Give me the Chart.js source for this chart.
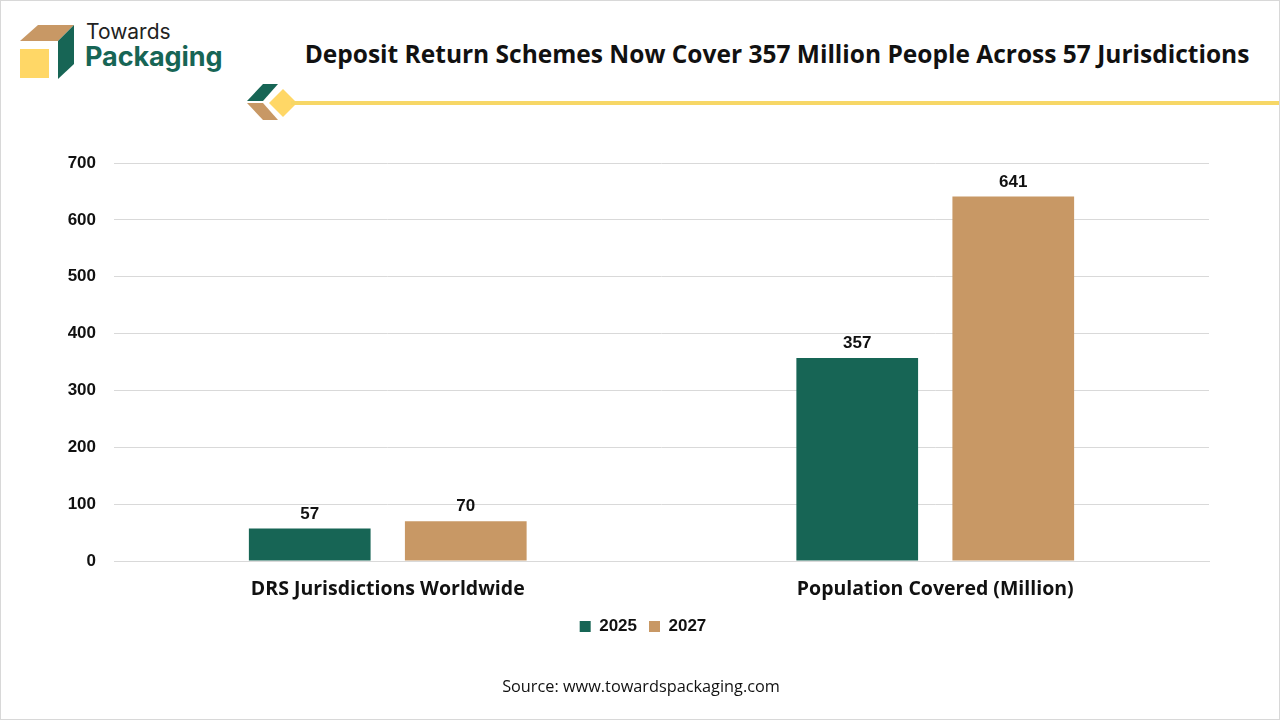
<!DOCTYPE html>
<html><head><meta charset="utf-8">
<script src="https://cdn.jsdelivr.net/npm/chart.js@4.4.1/dist/chart.umd.min.js"></script>
<style>
html,body{margin:0;padding:0;background:#fff;}
#wrap{position:relative;width:1280px;height:720px;overflow:hidden;box-sizing:border-box;border:1px solid #d8d8d8;}
#c{position:absolute;left:0;top:0;}
.t{position:absolute;white-space:nowrap;}
</style></head><body>
<div id="wrap">
<svg class="t" style="left:0;top:0" width="1280" height="130">
  <polygon points="19,40 37,24 73,24 57,40" fill="#C89865"/>
  <polygon points="57,40 73,24 73,63 57,78" fill="#176555"/>
  <rect x="19" y="48" width="29" height="29" fill="#FFD766"/>
  <polygon points="262,83 277,83 262,100 246,100" fill="#176555"/>
  <polygon points="246,102 262,102 277,119 262,119" fill="#C89865"/>
  <polygon points="282,88 296,102 282,116 268,102" fill="#FFD766"/>
  <rect x="290" y="100" width="990" height="4" fill="#F7D766"/>
</svg>
<div class="t" style="left:85px;top:18px;font:400 21px Inter, 'Open Sans', sans-serif;color:#222;">Towards</div>
<div class="t" style="left:84px;top:39px;font:700 27px Inter, 'Open Sans', sans-serif;color:#176555;letter-spacing:-0.1px;">Packaging</div>
<div class="t" style="left:0;width:1552px;top:36px;text-align:center;font:700 24.5px 'Open Sans', sans-serif;color:#111;">Deposit Return Schemes Now Cover 357 Million People Across 57 Jurisdictions</div>
<canvas id="c" width="1280" height="720"></canvas>
<div class="t" style="left:0;width:1280px;top:674px;text-align:center;font:400 16.3px 'Open Sans', sans-serif;color:#111;">Source: www.towardspackaging.com</div>
</div>
<script>
const categories = ["DRS Jurisdictions Worldwide", "Population Covered (Million)"];
const series2025 = [57, 357];
const series2027 = [70, 641];
const seriesNames = ["2025", "2027"];
const yTicks = [0, 100, 200, 300, 400, 500, 600, 700];

const valueLabels = {
  id: 'valueLabels',
  afterDatasetsDraw(chart) {
    const ctx = chart.ctx;
    ctx.save();
    ctx.font = "bold 17px 'Liberation Sans', Arial, sans-serif";
    ctx.fillStyle = "#111";
    ctx.textAlign = "center";
    ctx.textBaseline = "bottom";
    chart.data.datasets.forEach((ds, i) => {
      chart.getDatasetMeta(i).data.forEach((bar, j) => {
        ctx.fillText(String(ds.data[j]), bar.x, bar.y - 6);
      });
    });
    ctx.restore();
  }
};
const legendShift = {
  id: 'legendShift',
  afterLayout(chart) {
    const l = chart.legend;
    if (l) { l.left += 38; l.right += 38; }
  }
};

new Chart(document.getElementById('c'), {
  type: 'bar',
  data: {
    labels: categories,
    datasets: [
      { label: seriesNames[0], data: series2025, backgroundColor: '#176555' },
      { label: seriesNames[1], data: series2027, backgroundColor: '#C89865' }
    ]
  },
  options: {
    responsive: false,
    animation: false,
    devicePixelRatio: 1,
    layout: { padding: { top: 162, right: 72, bottom: 76, left: 0 } },
    categoryPercentage: 0.57,
    barPercentage: 0.78,
    scales: {
      x: {
        grid: { display: false },
        border: { color: '#d9d9d9' },
        ticks: { color: '#111', font: { family: "'Open Sans', sans-serif", size: 19.5, weight: 'bold' }, padding: 9 },
        afterFit(s) { s.height = 45; }
      },
      y: {
        min: 0, max: 700,
        afterBuildTicks(s) { s.ticks = yTicks.map(v => ({ value: v })); },
        grid: { color: '#d9d9d9', drawTicks: false },
        border: { display: false },
        ticks: { color: '#111', font: { family: "'Liberation Sans', Arial, sans-serif", size: 17, weight: 'bold' }, padding: 18 },
        afterFit(s) { s.width = 113; }
      }
    },
    plugins: {
      legend: {
        position: 'bottom',
        labels: { boxWidth: 11, boxHeight: 11, padding: 12, color: '#111', font: { family: "'Liberation Sans', Arial, sans-serif", size: 17, weight: 'bold' } }
      },
      tooltip: { enabled: false }
    }
  },
  plugins: [valueLabels, legendShift]
});
</script>
</body></html>
